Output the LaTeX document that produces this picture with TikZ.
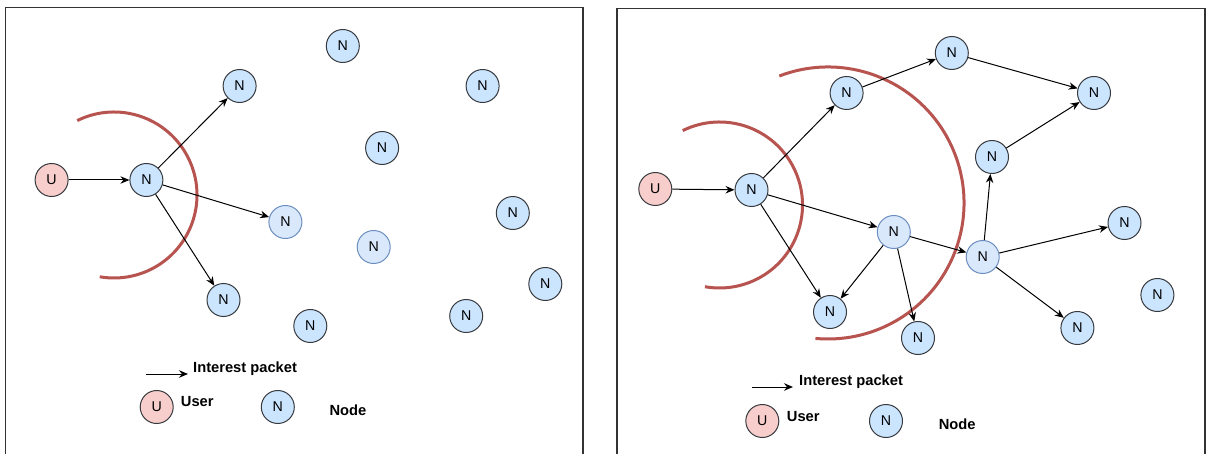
\documentclass[tikz,border=0pt]{standalone}
\usepackage{fontspec}
\setmainfont{Liberation Sans}
\usetikzlibrary{arrows.meta}
\definecolor{nfill}{HTML}{CCE5FF}
\definecolor{lfill}{HTML}{DAE8FC}
\definecolor{lstroke}{HTML}{6C8EBF}
\definecolor{ufill}{HTML}{F8CECC}
\definecolor{dstroke}{HTML}{36393D}
\definecolor{arcred}{HTML}{B85450}
\begin{document}
\begin{tikzpicture}[x=1pt,y=-1pt,
  nd/.style={circle, draw=dstroke, fill=nfill, line width=1pt, minimum size=33pt, inner sep=0pt, font=\fontsize{14.2}{16}\selectfont},
  ld/.style={nd, draw=lstroke, fill=lfill},
  ud/.style={nd, fill=ufill},
  pk/.style={-{Stealth[length=9pt,width=7.5pt,inset=3pt]}, line width=1pt, black},
  lg/.style={font=\fontsize{14.7}{17}\selectfont\bfseries, inner sep=0pt, anchor=west},
  rng/.style={draw=arcred, line width=3pt},
  frm/.style={draw=black!80, line width=1.5pt}]
\useasboundingbox (0,0) rectangle (1206,454);
\fill[white] (0,0) rectangle (1206,454);
% frames
\draw[frm] (5.7,454) -- (5.7,7.5) -- (583,7.5) -- (583,454);
\draw[frm] (617,454) -- (617,8.5) -- (1205,8.5) -- (1205,454);
% ---------- left panel ----------
\draw[rng] (114,195) ++(-116.3:83) arc[start angle=-116.3, end angle=99.9, radius=83];
\node[ud] (LU) at (51.6,180) {U};
\node[nd] (L0) at (146.4,180) {N};
\node[nd] (L1) at (239.6,86) {N};
\node[nd] (L2) at (342.8,46) {N};
\node[nd] (L3) at (482.6,86) {N};
\node[nd] (L4) at (382.1,148) {N};
\node[ld] (L5) at (285.4,222) {N};
\node[ld] (L6) at (373.7,247) {N};
\node[nd] (L7) at (512.8,213) {N};
\node[nd] (L8) at (545.3,284) {N};
\node[nd] (L9) at (223.5,300) {N};
\node[nd] (L10) at (310.3,326) {N};
\node[nd] (L11) at (466.2,316) {N};
\draw[pk] (LU) -- (L0);
\draw[pk] (L0) -- (L1);
\draw[pk] (L0) -- (L5);
\draw[pk] (L0) -- (L9);
% legend left
\coordinate (LA1) at (146.4,374);
\coordinate (LA2) at (188,374);
\draw[pk] (LA1) -- (LA2);
\node[lg] (LT1) at (193,369) {Interest packet};
\node[ud] (LLU) at (156.7,407) {U};
\node[lg] (LT2) at (180.7,402) {User};
\node[nd] (LLN) at (277.8,407) {N};
\node[lg] (LT3) at (329.4,410) {Node};
% ---------- right panel ----------
\draw[rng] (719.5,205) ++(-116.3:83) arc[start angle=-116.3, end angle=100.1, radius=83];
\draw[rng] (828,203) ++(-111:136) arc[start angle=-111, end angle=95.3, radius=136];
\node[ud] (RU) at (655.3,189) {U};
\node[nd] (R0) at (751.5,190) {N};
\node[nd] (R1) at (846.6,93) {N};
\node[nd] (R2) at (951.8,53) {N};
\node[nd] (R3) at (1094,93) {N};
\node[nd] (R4) at (992,157) {N};
\node[ld] (R5) at (893.8,232) {N};
\node[ld] (R6) at (982.7,257) {N};
\node[nd] (R7) at (1124.5,223) {N};
\node[nd] (R8) at (1157.4,295) {N};
\node[nd] (R9) at (1077.4,328) {N};
\node[nd] (R10) at (918,338) {N};
\node[nd] (R11) at (830,312) {N};
\draw[pk] (RU) -- (R0);
\draw[pk] (R0) -- (R1);
\draw[pk] (R0) -- (R5);
\draw[pk] (R0) -- (R11);
\draw[pk] (R1) -- (R2);
\draw[pk] (R2) -- (R3);
\draw[pk] (R4) -- (R3);
\draw[pk] (R5) -- (R11);
\draw[pk] (R5) -- (R10);
\draw[pk] (R5) -- (R6);
\draw[pk] (R6) -- (R4);
\draw[pk] (R6) -- (R7);
\draw[pk] (R6) -- (R9);
% legend right
\coordinate (RA1) at (752,387);
\coordinate (RA2) at (793,387);
\draw[pk] (RA1) -- (RA2);
\node[lg] (RT1) at (799,382) {Interest packet};
\node[ud] (RLU) at (762.3,421) {U};
\node[lg] (RT2) at (786.7,417) {User};
\node[nd] (RLN) at (886,421) {N};
\node[lg] (RT3) at (938.6,424) {Node};
\end{tikzpicture}
\end{document}
